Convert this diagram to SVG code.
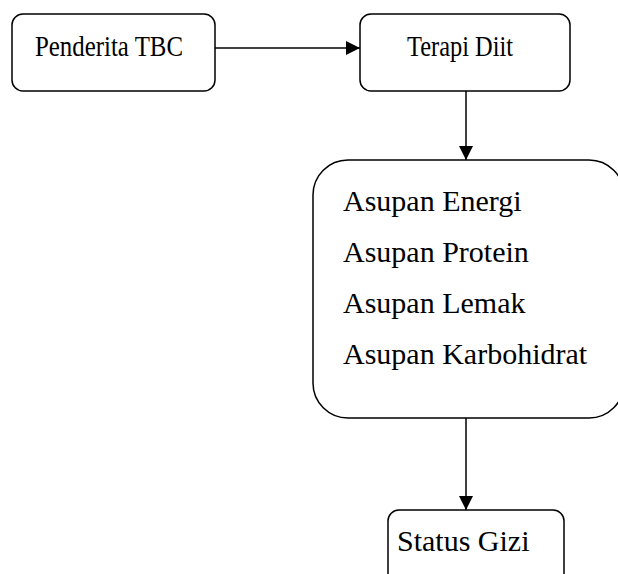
<svg xmlns="http://www.w3.org/2000/svg" width="618" height="574" viewBox="0 0 618 574">
<style>
.box{fill:#fff;stroke:#000;stroke-width:1.5}
text{font-family:'Liberation Serif','DejaVu Serif','Times New Roman',serif;font-size:30px;fill:#000}
.c{stroke:#000;stroke-width:1.5;fill:none}
</style>
<defs>
<marker id="ah" viewBox="0 0 14 14" refX="14" refY="7" markerWidth="14" markerHeight="14" orient="auto" markerUnits="userSpaceOnUse">
<path d="M0,0 L14,7 L0,14 Z" fill="#000"/>
</marker>
</defs>
<rect width="618" height="574" fill="#fff"/>
<g id="connectors">
<line class="c" x1="215" y1="48" x2="360" y2="48" marker-end="url(#ah)"/>
<line class="c" x1="466" y1="91" x2="466" y2="160" marker-end="url(#ah)"/>
<line class="c" x1="466" y1="418" x2="466" y2="510" marker-end="url(#ah)"/>
</g>
<g id="penderita">
<rect class="box" x="12" y="14" width="203" height="77" rx="11"/>
<text x="35" y="56" textLength="148" lengthAdjust="spacingAndGlyphs">Penderita TBC</text>
</g>
<g id="terapi">
<rect class="box" x="360" y="14" width="210" height="77" rx="11"/>
<text x="407" y="56" textLength="106" lengthAdjust="spacingAndGlyphs">Terapi Diit</text>
</g>
<g id="asupan">
<rect class="box" x="313" y="160" width="311" height="258" rx="35"/>
<text x="343" y="211">Asupan Energi</text>
<text x="343" y="262">Asupan Protein</text>
<text x="343" y="313">Asupan Lemak</text>
<text x="343" y="364">Asupan Karbohidrat</text>
</g>
<g id="status">
<rect class="box" x="388" y="510" width="176" height="80" rx="11"/>
<text x="397" y="551">Status Gizi</text>
</g>
</svg>
